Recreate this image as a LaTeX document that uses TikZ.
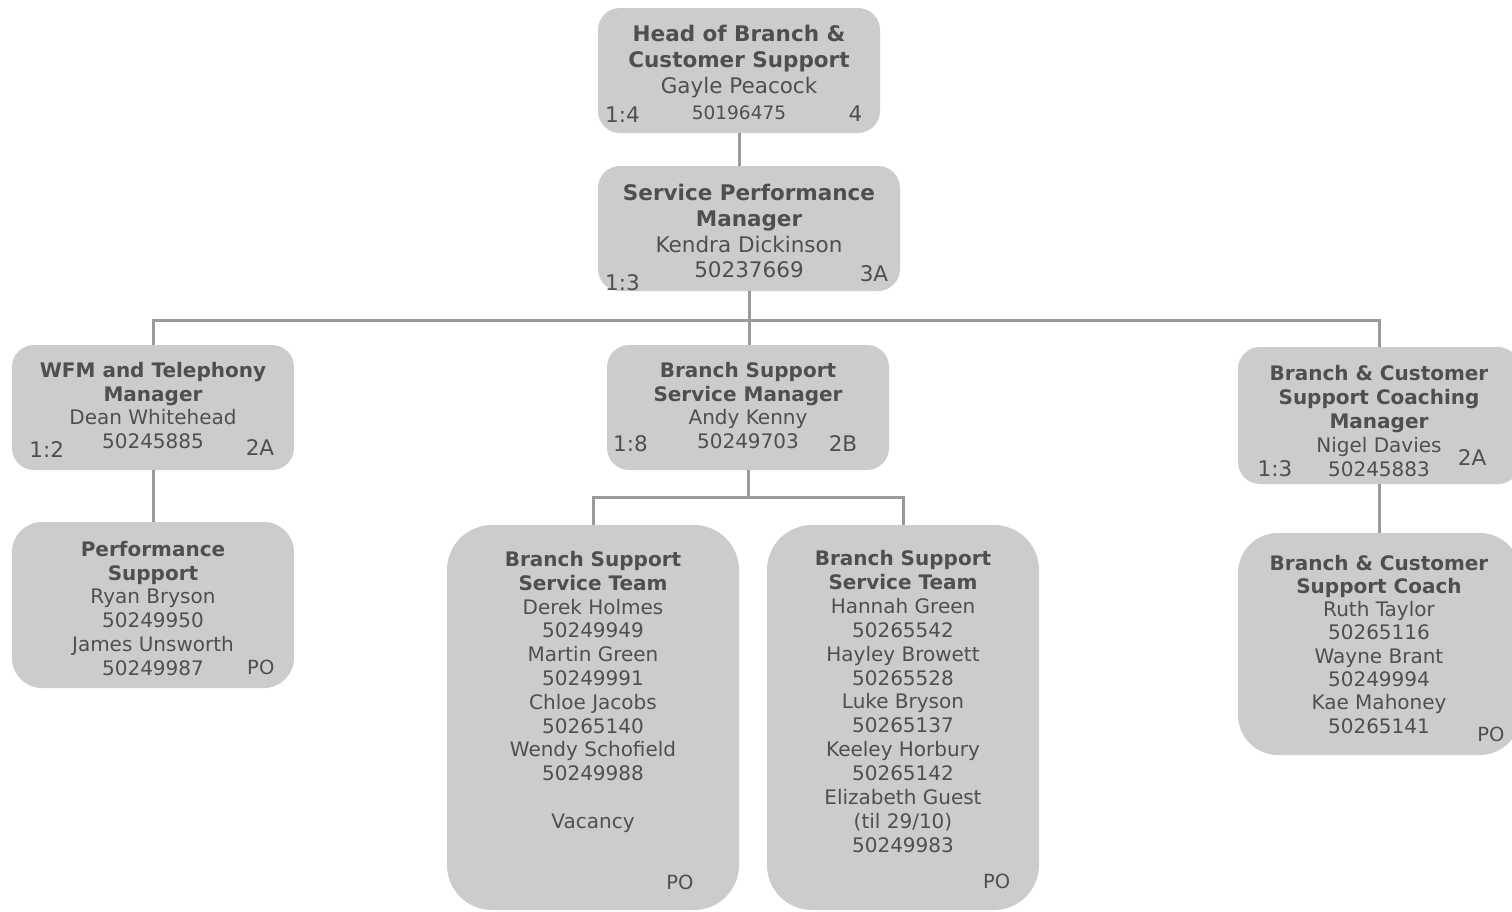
\documentclass[tikz,border=0pt]{standalone}
\usepackage{fontspec}
\setmainfont{DejaVu Sans}
\definecolor{boxfill}{HTML}{CCCCCC}
\definecolor{txtgray}{HTML}{4F4F4F}
\definecolor{linegray}{HTML}{9A9A9A}
\newcommand{\cornerfs}{\fontsize{21.5}{24}\selectfont}
\newcommand{\pofs}{\fontsize{19.5}{22}\selectfont}
\begin{document}
\begin{tikzpicture}[x=1pt,y=-1pt,
  orgbox/.style={rectangle, fill=boxfill, draw=none, inner sep=0pt, rounded corners=#1},
  orgbox/.default=22pt,
  txt/.style={anchor=north, inner sep=0pt, align=center, text=txtgray},
  corner/.style={anchor=center, inner sep=0pt, text=txtgray, font=\cornerfs},
  pomark/.style={anchor=center, inner sep=0pt, text=txtgray, font=\pofs},
  conn/.style={draw=linegray, line width=3pt}]
\useasboundingbox (0,0) rectangle (1512,911);
\fill[white] (0,0) rectangle (1512,911);

% boxes
\node[orgbox=22pt, minimum width=282pt, minimum height=125pt] (head) at (739,70.5) {};
\node[orgbox=22pt, minimum width=302pt, minimum height=125pt] (spm) at (749,228.5) {};
\node[orgbox=22pt, minimum width=282pt, minimum height=125pt] (wfm) at (153,407.5) {};
\node[orgbox=22pt, minimum width=282pt, minimum height=125pt] (bssm) at (748,407.5) {};
\node[orgbox=22pt, minimum width=282pt, minimum height=137pt] (bcscm) at (1379,415.5) {};
\node[orgbox=30pt, minimum width=282pt, minimum height=166pt] (perf) at (153,605) {};
\node[orgbox=45pt, minimum width=292pt, minimum height=385pt] (bsst1) at (593,717.5) {};
\node[orgbox=45pt, minimum width=272pt, minimum height=385pt] (bsst2) at (903,717.5) {};
\node[orgbox=40pt, minimum width=282pt, minimum height=222pt] (bcsc) at (1379,644) {};

% connectors
\coordinate (busA) at (749,320);
\coordinate (busB) at (748,497);
\draw[conn] (head.south) -- (head.south |- spm.north);
\draw[conn] (spm.south) -- (spm.south |- bssm.north);
\draw[conn] (wfm.north) |- (busA) -| (bcscm.north);
\draw[conn] (wfm.south) -- (perf.north);
\draw[conn] (bssm.south) -- (busB);
\draw[conn] (bsst1.north) |- (busB) -| (bsst2.north);
\draw[conn] (bcscm.south) -- (bcsc.north);

% texts
\node[txt, font=\fontsize{21.5}{26}\selectfont] (headtxt) at (739,24.5)
  {\textbf{Head of Branch \&}\\\textbf{Customer Support}\\Gayle Peacock\\{\fontsize{18.5}{26}\selectfont 50196475}};
\node[corner] (headr) at (622.5,114.5) {1:4};
\node[corner] (headg) at (855.5,114) {4};

\node[txt, font=\fontsize{21.5}{25.8}\selectfont] (spmtxt) at (749,184)
  {\textbf{Service Performance}\\\textbf{Manager}\\Kendra Dickinson\\50237669};
\node[corner] (spmr) at (622.5,283) {1:3};
\node[corner] (spmg) at (874,273.3) {3A};

\node[txt, font=\fontsize{20}{23.6}\selectfont] (wfmtxt) at (153,362.1)
  {\textbf{WFM and Telephony}\\\textbf{Manager}\\Dean Whitehead\\50245885};
\node[corner] (wfmr) at (46.7,450) {1:2};
\node[corner] (wfmg) at (260,447.5) {2A};

\node[txt, font=\fontsize{20}{23.6}\selectfont] (bssmtxt) at (748,362.1)
  {\textbf{Branch Support}\\\textbf{Service Manager}\\Andy Kenny\\50249703};
\node[corner] (bssmr) at (630.5,443.3) {1:8};
\node[corner] (bssmg) at (843,444) {2B};

\node[txt, font=\fontsize{20}{24.1}\selectfont] (bcscmtxt) at (1379,364.6)
  {\textbf{Branch \& Customer}\\\textbf{Support Coaching}\\\textbf{Manager}\\Nigel Davies\\50245883};
\node[corner] (bcscmr) at (1275,469) {1:3};
\node[corner] (bcscmg) at (1472,457.5) {2A};

\node[txt, font=\fontsize{20}{23.7}\selectfont] (perftxt) at (153,541.1)
  {\textbf{Performance}\\\textbf{Support}\\Ryan Bryson\\50249950\\James Unsworth\\50249987};
\node[pomark] (perfpo) at (260.8,667.5) {PO};

\node[txt, font=\fontsize{20}{23.8}\selectfont] (bsst1txt) at (593,551.1)
  {\textbf{Branch Support}\\\textbf{Service Team}\\Derek Holmes\\50249949\\Martin Green\\50249991\\Chloe Jacobs\\50265140\\Wendy Schofield\\50249988\\[23.8pt]Vacancy};
\node[pomark] (bsst1po) at (680,882) {PO};

\node[txt, font=\fontsize{20}{23.9}\selectfont] (bsst2txt) at (903,550.1)
  {\textbf{Branch Support}\\\textbf{Service Team}\\Hannah Green\\50265542\\Hayley Browett\\50265528\\Luke Bryson\\50265137\\Keeley Horbury\\50265142\\Elizabeth Guest\\(til 29/10)\\50249983};
\node[pomark] (bsst2po) at (996.7,881.5) {PO};

\node[txt, font=\fontsize{20}{23.3}\selectfont] (bcsctxt) at (1379,554.6)
  {\textbf{Branch \& Customer}\\\textbf{Support Coach}\\Ruth Taylor\\50265116\\Wayne Brant\\50249994\\Kae Mahoney\\50265141};
\node[pomark] (bcscpo) at (1490.8,734) {PO};
\end{tikzpicture}
\end{document}
